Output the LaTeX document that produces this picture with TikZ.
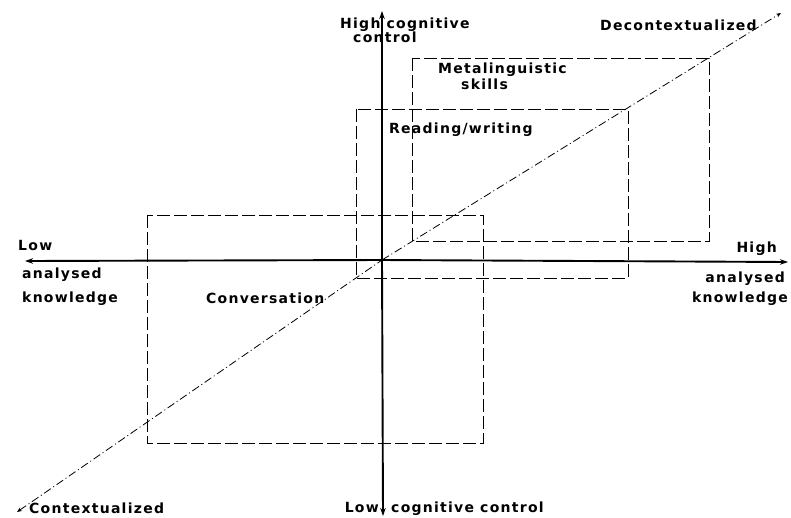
\documentclass[tikz,border=0pt]{standalone}
\usepackage{fontspec}
\setmainfont[LetterSpace=9]{DejaVu Sans}
\usetikzlibrary{arrows.meta}
\tikzset{
	axis/.style={line width=1.9pt,-{Stealth[length=8pt,width=5.5pt]}},
	zone/.style={line width=0.9pt,dash pattern=on 13pt off 4pt},
	diag/.style={line width=0.8pt,dash pattern=on 8pt off 3pt on 1pt off 3pt},
	lbl/.style={inner sep=0pt,font=\fontsize{14}{16}\selectfont\bfseries}
}
\begin{document}
\begin{tikzpicture}[x=1pt,y=-1pt]
	\useasboundingbox (0,0) rectangle (791,517);
	\coordinate (origin) at (382,260);
	\coordinate (lowK) at (25,261);
	\coordinate (highK) at (788,262);
	\coordinate (highC) at (382,11);
	\coordinate (lowC) at (383,516);
	\coordinate (ctx) at (17,512);
	\coordinate (dectx) at (781,13);
	\draw[zone] (147,215) rectangle (483,443);
	\draw[zone] (356,109) rectangle (628,278);
	\draw[zone] (412,58) rectangle (709,241);
	\draw[diag,{Stealth[length=5pt,width=4pt]}-] (ctx) -- (origin);
	\draw[diag,-{Stealth[length=5pt,width=4pt]}] (origin) -- (dectx);
	\draw[axis] (origin) -- (lowK);
	\draw[axis] (origin) -- (highK);
	\draw[axis] (origin) -- (highC);
	\draw[axis] (origin) -- (lowC);
	\node[lbl,anchor=base west] (hc1) at (340,28) {High cognitive};
	\node[lbl,anchor=base west] (hc2) at (353,42) {control};
	\node[lbl,anchor=base west] (dec) at (600,30) {Decontextualized};
	\node[lbl,anchor=base west] (meta) at (438,73) {Metalinguistic};
	\node[lbl,anchor=base west] (skills) at (461,89) {skills};
	\node[lbl,anchor=base west] (rw) at (389,133) {Reading/writing};
	\node[lbl,anchor=base west] (conv) at (206,303) {Conversation};
	\node[lbl,anchor=base west] (lk1) at (18,250) {Low};
	\node[lbl,anchor=base west] (lk2) at (22,278) {analysed};
	\node[lbl,anchor=base west] (lk3) at (22,302) {knowledge};
	\node[lbl,anchor=base east] (hk1) at (777,252) {High};
	\node[lbl,anchor=base east] (hk2) at (785,282) {analysed};
	\node[lbl,anchor=base east] (hk3) at (788,302) {knowledge};
	\node[lbl,anchor=base west] (ctxl) at (29,513) {Contextualized};
	\node[lbl,anchor=base east] (lc1) at (379,512) {Low};
	\node[lbl,anchor=base west] (lc2) at (391,512) {cognitive control};
\end{tikzpicture}
\end{document}
